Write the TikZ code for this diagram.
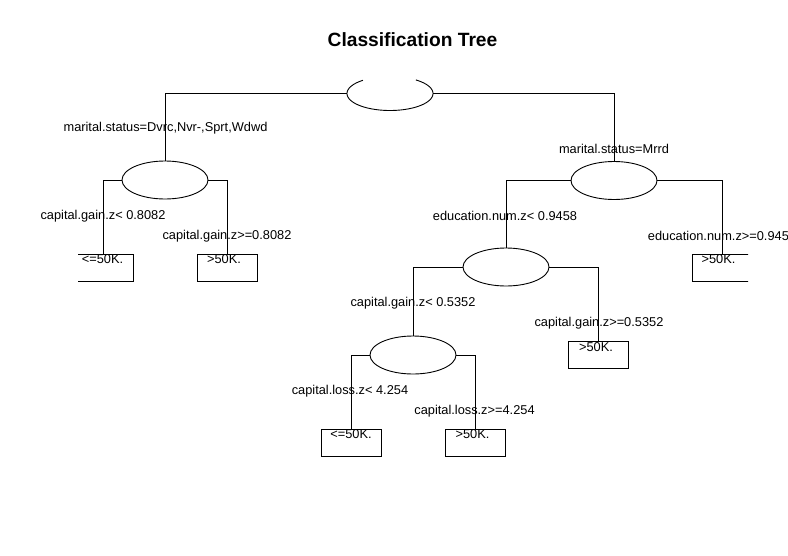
\documentclass[tikz,border=0pt]{standalone}
\usepackage{fontspec}
\setmainfont{Liberation Sans}
\usetikzlibrary{shapes.geometric}
\tikzset{
  lbl/.style={inner sep=0pt, anchor=base, font=\fontsize{12.8}{15}\selectfont},
  ttl/.style={inner sep=0pt, anchor=base, font=\bfseries\fontsize{19.2}{22}\selectfont},
  split/.style={ellipse, draw, line width=0.9pt, minimum width=86pt, minimum height=38pt, inner sep=0pt, fill=white},
  leaf/.style={rectangle, draw, line width=0.9pt, minimum width=60pt, minimum height=27pt, inner sep=0pt},
  conn/.style={line width=0.9pt},
}
\begin{document}
\begin{tikzpicture}[x=1pt, y=-1pt]
\useasboundingbox (0,0) rectangle (788,555);
% title
\node[ttl] (title) at (412.5,46.7) {Classification Tree};
% split nodes
\node[ellipse, minimum width=86pt, minimum height=34pt, inner sep=0pt] (root) at (390,93.5) {};
\draw[conn] plot[smooth, domain=129:413, samples=80] ({390+43*cos(\x)}, {93.5-17*sin(\x)});
\node[split] (e1) at (165,180) {};
\node[split] (e2) at (614,180.5) {};
\node[split] (e3) at (506,267) {};
\node[split] (e4) at (413,355) {};
% leaves (clipped to the plot region)
\begin{scope}
\clip (78,0) rectangle (748,555);
\node[leaf] (b1) at (103,268) {};
\node[leaf] (b2) at (227,268) {};
\node[leaf] (b3) at (722,267.5) {};
\node[leaf] (b4) at (598.5,355) {};
\node[leaf] (b5) at (351.5,442.5) {};
\node[leaf] (b6) at (475,442.5) {};
\end{scope}
% connectors
\draw[conn] (root.west) -| (e1.north);
\draw[conn] (root.east) -| (e2.north);
\draw[conn] (e1.west) -| (b1.north);
\draw[conn] (e1.east) -| (b2.north);
\draw[conn] (e2.west) -| (e3.north);
\draw[conn] (e2.east) -| (b3.north);
\draw[conn] (e3.west) -| (e4.north);
\draw[conn] (e3.east) -| (b4.north);
\draw[conn] (e4.west) -| (b5.north);
\draw[conn] (e4.east) -| (b6.north);
% split labels
\node[lbl] (l1) at (165.5,131.7) {marital.status=Dvrc,Nvr-,Sprt,Wdwd};
\node[lbl] (l2) at (614,153.3) {marital.status=Mrrd};
\node[lbl] (l3) at (103,219) {capital.gain.z< 0.8082};
\node[lbl] (l4) at (227,239) {capital.gain.z>=0.8082};
\node[lbl] (l5) at (505,220.7) {education.num.z< 0.9458};
\node[lbl] (l6) at (722,240.7) {education.num.z>=0.9458};
\node[lbl] (l7) at (413,306.7) {capital.gain.z< 0.5352};
\node[lbl] (l8) at (599,326.7) {capital.gain.z>=0.5352};
\node[lbl] (l9) at (350,394.3) {capital.loss.z< 4.254};
\node[lbl] (l10) at (474.5,414.3) {capital.loss.z>=4.254};
% leaf texts
\node[lbl] (t1) at (102.5,263.3) {<=50K.};
\node[lbl] (t2) at (224,263.3) {>50K.};
\node[lbl] (t3) at (718.5,263.3) {>50K.};
\node[lbl] (t4) at (596,351) {>50K.};
\node[lbl] (t5) at (351,438.3) {<=50K.};
\node[lbl] (t6) at (472.5,438.3) {>50K.};
\end{tikzpicture}
\end{document}
